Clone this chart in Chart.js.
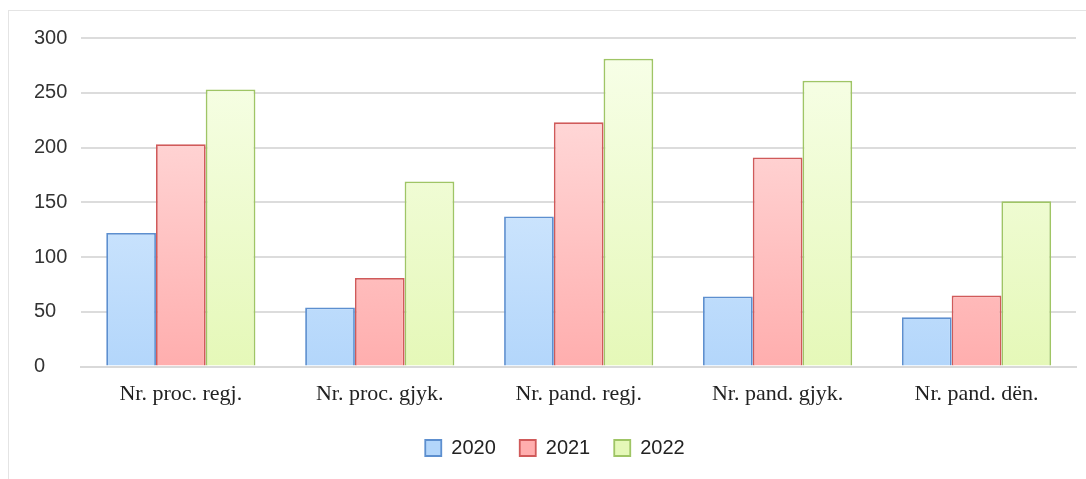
<!DOCTYPE html>
<html>
<head>
<meta charset="utf-8">
<script src="https://cdn.jsdelivr.net/npm/chart.js"></script>
<style>
  body { margin: 0; background: #fff; }
  #frame { position: absolute; left: 8px; top: 10px; width: 1090px; height: 470px; border: 1px solid #e4e4e4; }
  #wrap { position: absolute; left: 0; top: 0; width: 1086px; height: 479px; }
</style>
</head>
<body>
<div id="frame"></div>
<div id="wrap"><canvas id="chart"></canvas></div>
<script>
const categories = ['Nr. proc. regj.', 'Nr. proc. gjyk.', 'Nr. pand. regj.', 'Nr. pand. gjyk.', 'Nr. pand. dën.'];
const years = ['2020', '2021', '2022'];
const values2020 = [122, 54, 137, 64, 45];
const values2021 = [203, 81, 223, 191, 65];
const values2022 = [253, 169, 281, 261, 151];

// top colour, bottom colour, border
const palette = [
    ['#e6f3ff', '#b3d6fb', '#5d8fcf'],
    ['#ffe4e4', '#ffaeae', '#d05a5a'],
    ['#f8ffea', '#e5f8b8', '#9fc565']
];

function gradientFor(i) {
    return function (ctx) {
        const chart = ctx.chart;
        const area = chart.chartArea;
        if (!area) return palette[i][1];
        const g = chart.ctx.createLinearGradient(0, area.top, 0, area.bottom);
        g.addColorStop(0, palette[i][0]);
        g.addColorStop(1, palette[i][1]);
        return g;
    };
}

const series = [values2020, values2021, values2022];

const ctx = document.getElementById('chart').getContext('2d');
const chart = new Chart(ctx, {
    type: 'bar',
    data: {
        labels: categories,
        datasets: years.map((y, i) => ({
            label: y,
            data: series[i],
            backgroundColor: gradientFor(i),
            borderColor: palette[i][2],
            borderWidth: 1.8,
            categoryPercentage: 0.75,
            barPercentage: 1.0
        }))
    },
    options: {
        responsive: true,
        maintainAspectRatio: false,
        animation: false,
        layout: { padding: { top: 38, right: 10, left: 34, bottom: 11 } },
        plugins: {
            legend: {
                position: 'bottom',
                labels: {
                    boxWidth: 16,
                    boxHeight: 16,
                    padding: 24,
                    color: '#222',
                    font: { family: 'Liberation Sans, Arial, sans-serif', size: 20 }
                }
            },
            tooltip: { enabled: false }
        },
        scales: {
            x: {
                grid: { display: false },
                border: { color: '#d9d9d9', width: 2 },
                afterFit: function (scale) { scale.height += 1; },
                ticks: {
                    color: '#222',
                    padding: 6,
                    font: { family: 'Liberation Serif, Times New Roman, serif', size: 22 }
                }
            },
            y: {
                min: 0,
                max: 300,
                ticks: {
                    stepSize: 50,
                    color: '#333',
                    padding: 7,
                    crossAlign: 'far',
                    font: { family: 'Liberation Sans, Arial, sans-serif', size: 20 }
                },
                grid: { color: '#dcdcdc', lineWidth: 2, drawTicks: false },
                border: { display: false }
            }
        }
    }
});
</script>
</body>
</html>
